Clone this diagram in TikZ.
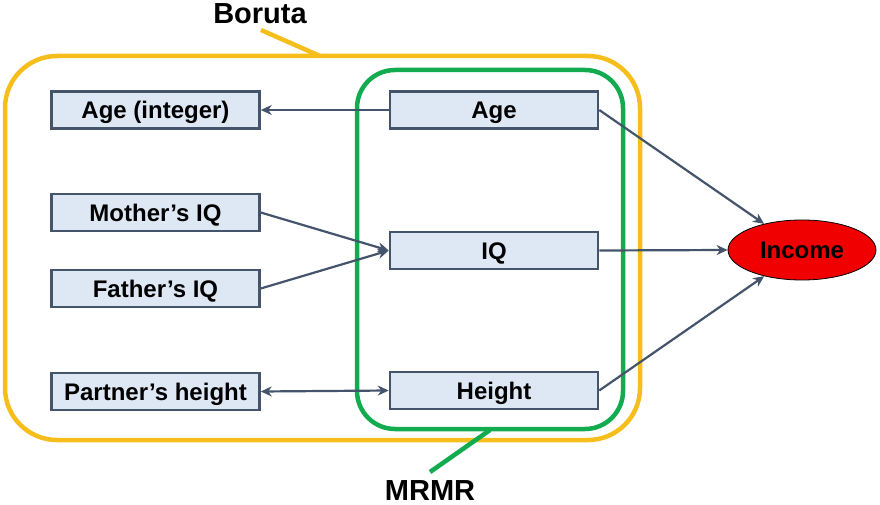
\documentclass[tikz,border=0pt]{standalone}
\usepackage{fontspec}
\setmainfont{Liberation Sans}
\usetikzlibrary{shapes.geometric,arrows.meta}
\definecolor{boxfill}{HTML}{DEE8F5}
\definecolor{slate}{HTML}{44546A}
\definecolor{boryel}{HTML}{F6BE1A}
\definecolor{mrgreen}{HTML}{13AB4F}
\definecolor{incred}{HTML}{F00000}
\tikzset{
  var/.style={draw=slate, line width=2.5pt, fill=boxfill, minimum width=208pt, minimum height=37pt,
    inner sep=0pt, text height=17pt, text depth=0pt, font=\fontsize{24}{26}\selectfont\bfseries},
  conn/.style={draw=slate, line width=2.2pt, -{Stealth[length=11pt,width=10pt,inset=3.5pt]}},
  biconn/.style={draw=slate, line width=2.2pt, {Stealth[length=11pt,width=10pt,inset=3.5pt]}-{Stealth[length=11pt,width=10pt,inset=3.5pt]}},
  grp/.style={line width=4.5pt},
  lbl/.style={font=\fontsize{29}{31}\selectfont\bfseries, inner sep=0pt}
}
\begin{document}
\begin{tikzpicture}[x=1pt,y=-1pt]
\useasboundingbox (0,0) rectangle (880,505);
% group outlines
\draw[grp, draw=boryel, rounded corners=52pt] (5,56) rectangle (640,440);
\draw[grp, draw=mrgreen, rounded corners=38pt] (357,70) rectangle (623,429);
% labels and callouts
\node[lbl] (boruta) at (260,13.5) {Boruta};
\node[lbl] (mrmr) at (430,490.5) {MRMR};
\coordinate (bcall) at (320,56);
\coordinate (bcallend) at (261,30);
\coordinate (mcall) at (490,430);
\coordinate (mcallend) at (430,472);
\draw[grp, draw=boryel] (bcallend) -- (bcall);
\draw[grp, draw=mrgreen] (mcall) -- (mcallend);
% nodes
\node[var] (ageint) at (155.5,110) {Age (integer)};
\node[var] (mother) at (155.5,212.5) {Mother’s IQ};
\node[var] (father) at (155.5,288.5) {Father’s IQ};
\node[var] (partner) at (155.5,391.5) {Partner’s height};
\node[var] (age) at (494,110) {Age};
\node[var] (iq) at (494,250.5) {IQ};
\node[var] (height) at (494,390.5) {Height};
\node[ellipse, draw=black, line width=0.8pt, fill=incred, minimum width=148pt, minimum height=60pt, inner sep=0pt,
  text height=17pt, text depth=0pt, font=\fontsize{24}{26}\selectfont\bfseries] (income) at (802,250) {Income};
% connectors
\draw[conn] (age.west) -- (ageint.east);
\draw[conn] (mother.east) -- (iq.west);
\draw[conn] (father.east) -- (iq.west);
\draw[biconn] (partner.east) -- (height.west);
\draw[conn] (age.east) -- (income);
\draw[conn] (iq.east) -- (income.west);
\draw[conn] (height.east) -- (income);
\end{tikzpicture}
\end{document}
